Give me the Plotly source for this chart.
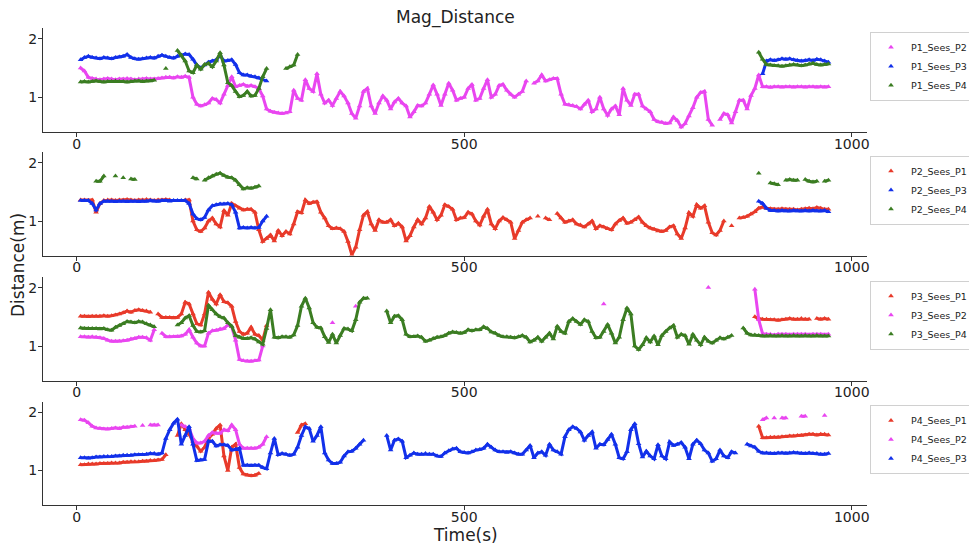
import plotly.graph_objects as go

# Sampling instants (s) shared by every series
time_s = list(range(0, 975, 5))

GAP = None

# ---------------- Player 1 ----------------
p1_sees_p2 = ([GAP]
    + [1.50, 1.45, 1.34, 1.32,
       1.31, 1.30, 1.31, 1.32, 1.31, 1.30, 1.31, 1.31, 1.32, 1.31, 1.30, 1.31, 1.31, 1.32, 1.31, 1.31, 1.32,
       1.33, 1.34, 1.34, 1.33, 1.35, 1.34, 1.36, 1.34]
    + [1.00, 0.88, 0.85, 0.87, 0.90, 0.98, 0.96, 0.90, 1.05, 1.20,
       1.35, 1.18, 1.20, 1.22, 1.19, 1.20, 1.18, 1.15, 1.02, 0.80,
       0.76, 0.74, 0.73, 0.72, 0.73, 0.75, 1.12, 0.98, 0.95, 1.30,
       1.15, 1.10, 1.40, 1.05, 0.90, 0.95, 0.86, 0.98, 1.10, 1.02,
       0.90, 0.72, 0.64, 0.85, 1.10, 1.15, 0.85, 0.72, 0.90, 1.02,
       0.95, 0.80, 0.92, 0.98, 0.90, 0.85, 0.66, 0.75, 0.86, 0.85,
       0.90, 1.05, 1.21, 1.05, 0.86, 1.05, 1.24, 1.12, 0.95, 0.98,
       1.00, 1.15, 1.22, 0.95, 0.98, 1.15, 1.30, 1.00, 1.05, 1.20,
       1.22, 1.12, 1.05, 1.00, 1.05, 1.10, 1.28]
    + [GAP]
    + [1.24, 1.28, 1.38, 1.28, 1.30, 1.32, 1.32, 1.05, 0.88, 0.87,
       0.86, 0.84, 0.80, 0.88, 0.95, 0.75, 0.80, 1.00, 0.80, 0.69,
       0.80, 0.85, 0.70, 1.15, 0.95, 0.86, 1.05, 1.05, 0.85, 0.80,
       0.75, 0.62, 0.58, 0.57, 0.55, 0.56, 0.66, 0.60, 0.49, 0.55,
       0.68, 0.82, 1.00, 1.08, 1.10, 0.62, 0.52]
    + [GAP]
    + [0.62, 0.72, 0.70, 0.56, 0.75, 0.95, 0.95, 0.80, 1.03, 1.15,
       1.38, 1.18,
       1.18, 1.17, 1.18, 1.18, 1.17, 1.18, 1.18, 1.17, 1.18, 1.18, 1.17, 1.18, 1.18, 1.17, 1.18, 1.17, 1.18])

p1_sees_p3 = ([GAP]
    + [1.64, 1.68, 1.70, 1.68, 1.67, 1.66, 1.68, 1.67, 1.66, 1.68,
       1.69, 1.70, 1.73, 1.68, 1.66, 1.65, 1.66, 1.67, 1.68, 1.67,
       1.70, 1.72, 1.70, 1.68, 1.67, 1.70, 1.72, 1.74, 1.73, 1.65,
       1.55, 1.50, 1.55, 1.60, 1.62, 1.64, 1.72, 1.62, 1.63, 1.64,
       1.56, 1.42, 1.38, 1.38, 1.36, 1.35, 1.33, 1.30, 1.28]
    + [GAP] * 127
    + [1.40, 1.62, 1.64, 1.63, 1.64, 1.66, 1.65, 1.66, 1.64, 1.63,
       1.62, 1.63, 1.64, 1.63, 1.65, 1.64, 1.62, 1.60])

p1_sees_p4 = ([GAP]
    + [1.26, 1.27, 1.26, 1.27, 1.28, 1.27, 1.26, 1.27, 1.27, 1.28,
       1.27, 1.27, 1.26, 1.27, 1.28, 1.28, 1.27, 1.28, 1.28, 1.29]
    + [GAP, GAP, 1.49, GAP, GAP]
    + [1.80, 1.72, 1.62, 1.45, 1.42, 1.55, 1.48, 1.56, 1.58, 1.52,
       1.62, 1.76, 1.55, 1.25, 1.20, 1.10, 1.01, 1.03, 1.10, 1.02,
       1.03, 1.15, 1.35, 1.49]
    + [GAP] * 4
    + [1.49, 1.52, 1.55, 1.73]
    + [GAP] * 118
    + [1.77, 1.65, 1.56, 1.55, 1.54, 1.54, 1.53, 1.54, 1.55, 1.56,
       1.55, 1.54, 1.55, 1.57, 1.58, 1.56, 1.55, 1.56, 1.57])

# ---------------- Player 2 ----------------
p2_sees_p1 = ([GAP]
    + [1.36, 1.36, 1.35, 1.36, 1.15, 1.30, 1.35, 1.36, 1.36, 1.35,
       1.36, 1.36, 1.37, 1.36, 1.35, 1.36, 1.36, 1.37, 1.36, 1.35,
       1.36, 1.36, 1.37, 1.36]
    + [GAP] * 3
    + [1.36, 1.36, 1.00, 0.85, 0.82, 0.88, 1.00, 1.05, 0.95, 0.90,
       1.18, 1.10, 1.30, 1.26, 1.22, 1.19, 1.20, 1.20, 1.15, 0.85,
       0.65, 0.70, 0.76, 0.66, 0.84, 0.75, 0.82, 0.78, 0.95, 1.16,
       1.14, 1.36, 1.30, 1.32, 1.33, 1.15, 1.05, 0.92, 0.87, 0.88,
       0.87, 0.82, 0.65, 0.42, 0.55, 0.85, 1.10, 1.16, 0.95, 0.84,
       1.02, 0.98, 0.98, 1.02, 0.92, 0.96, 0.90, 0.66, 0.75, 0.90,
       1.02, 0.95, 1.05, 1.25, 1.15, 1.02, 1.10, 1.28, 1.25, 1.20,
       1.02, 1.05, 1.06, 1.15, 1.12, 1.00, 0.93, 1.08, 1.20, 0.95,
       0.87, 1.00, 1.06, 1.02, 0.98, 0.70, 0.84, 0.98, 1.02]
    + [1.05, GAP, 1.08, GAP, 1.05, 1.02, GAP]
    + [1.13, 1.05, 0.98, 1.00, 1.02, 0.95, 0.93, 0.90, 0.95, 1.00,
       0.87, 0.92, 0.90, 0.87, 0.85, 0.95, 1.01, 1.05, 0.96, 0.98,
       1.02, 1.07, 0.98, 0.92, 0.88, 0.86, 0.83, 0.82, 0.84, 0.90,
       0.92, 0.78, 0.70, 0.88, 1.14, 1.08, 1.28, 1.22, 1.26, 0.98,
       0.80, 0.76, 0.84, 1.00]
    + [GAP, 0.92, GAP]
    + [1.05, 1.06, 1.08, 1.12, 1.16, 1.22, 1.24, 1.22, 1.21, 1.20,
       1.20, 1.21, 1.20, 1.20, 1.20, 1.19, 1.20, 1.21, 1.22, 1.21,
       1.23, 1.22, 1.20, 1.20])

p2_sees_p3 = ([GAP]
    + [1.35, 1.35, 1.35, 1.30, 1.19, 1.30, 1.34, 1.34, 1.34, 1.33,
       1.34, 1.34, 1.33, 1.34, 1.34, 1.33, 1.34, 1.34, 1.35, 1.34,
       1.34, 1.35, 1.35, 1.34, 1.35, 1.35, 1.35, 1.35, 1.30, 1.12,
       1.04, 1.02, 1.06, 1.19, 1.26, 1.28, 1.29, 1.29, 1.30, 1.28,
       1.15, 0.88, 0.89, 0.88, 0.89, 0.88, 0.89, 1.00, 1.08]
    + [GAP] * 126
    + [1.34, 1.30, 1.22, 1.18, 1.18, 1.17, 1.18, 1.17, 1.17, 1.18,
       1.17, 1.17, 1.18, 1.17, 1.18, 1.17, 1.17, 1.18, 1.16])

p2_sees_p4 = ([GAP] * 5
    + [1.68, 1.68, 1.77, GAP, GAP, 1.77, GAP, 1.74, GAP, 1.72, 1.71]
    + [GAP] * 14
    + [1.74, 1.72, GAP, 1.70, 1.74, 1.77, 1.80, 1.82, 1.78, 1.75,
       1.74, 1.70, 1.62, 1.55, 1.57, 1.56, 1.58, 1.60]
    + [GAP] * 128
    + [1.82, GAP, GAP, 1.65, 1.64, 1.62, GAP, 1.70, 1.71, 1.70,
       1.70, GAP, 1.71, 1.68, 1.67, 1.68, GAP, 1.68, 1.70])

# ---------------- Player 3 ----------------
p3_sees_p1 = ([GAP]
    + [1.51, 1.51, 1.50, 1.51, 1.51, 1.51, 1.52, 1.51, 1.52, 1.53,
       1.55, 1.57, 1.60, 1.58, 1.61, 1.62, 1.61, 1.60, 1.58]
    + [GAP]
    + [1.55, 1.49, 1.49, 1.49, 1.48, 1.49, 1.55, 1.75, 1.72, 1.55,
       1.38, 1.36, 1.55, 1.92, 1.80, 1.72, 1.88, 1.76, 1.74, 1.68,
       1.42, 1.25, 1.20, 1.22, 1.32, 1.20, 1.18, 1.10, 1.35]
    + [GAP] * 125
    + [1.50, 1.47, 1.46, 1.46, 1.45, 1.45, 1.44, 1.45, 1.46, 1.47,
       1.46, 1.46, 1.47, 1.46, 1.46, GAP, 1.47, 1.46, 1.47, 1.46])

p3_sees_p2 = ([GAP]
    + [1.16, 1.16, 1.15, 1.16, 1.15, 1.14, 1.13, 1.10, 1.08, 1.08,
       1.08, 1.09, 1.10, 1.12, 1.13, 1.15, 1.15, 1.14, 1.10]
    + [1.28, GAP, 1.22]
    + [1.16, 1.16, 1.16, 1.16, 1.17, 1.20, 1.28, 1.15, 1.05, 1.00,
       1.00, 1.22, 1.26, 1.27, 1.29, 1.30, 1.36, 1.33, 1.10, 0.77,
       0.75, 0.74, 0.74, 0.75, 0.76, 1.00]
    + [GAP] * 17 + [1.40]
    + [GAP] * 5 + [1.68]
    + [GAP] * 63 + [1.72]
    + [GAP] * 26 + [2.00]
    + [GAP] * 11
    + [1.97, 1.45, 1.21,
       1.20, 1.20, 1.19, 1.20, 1.20, 1.20, 1.19, 1.20, 1.20, 1.20,
       1.20, 1.19, 1.20, 1.20, 1.20, 1.19, 1.20])

p3_sees_p4 = ([GAP]
    + [1.31, 1.30, 1.30, 1.30, 1.30, 1.29, 1.30, 1.28, 1.27, 1.32,
       1.35, 1.38, 1.42, 1.41, 1.40, 1.42, 1.41, 1.38, 1.36]
    + [1.33, GAP, GAP, GAP, GAP, GAP]
    + [1.36, 1.40, 1.48, 1.52, 1.35, 1.25, 1.24, 1.26, 1.70, 1.62,
       1.55, 1.50, 1.48, 1.40, 1.34, 1.18, 1.15, 1.13, 1.13, 1.14,
       1.12, 1.07, 1.03, 1.30, 1.62, 1.15, 1.14, 1.16, 1.16, 1.15,
       1.19, 1.35, 1.68, 1.82, 1.65, 1.40, 1.32, 1.31, 1.16, 1.06,
       1.20, 1.05, 1.18, 1.30, 1.29, 1.26, 1.45, 1.75, 1.82]
    + [1.82]
    + [GAP] * 4
    + [1.60, 1.40, 1.51, 1.52, 1.45, 1.20, 1.16, 1.16, 1.17, 1.15,
       1.08, 1.10, 1.13, 1.15, 1.16, 1.18, 1.22, 1.24, 1.23, 1.22,
       1.23]
    + [1.28, 1.26, 1.28, 1.28, 1.33, 1.30, 1.24, 1.22, 1.18, 1.16,
       1.16, 1.15, 1.14, 1.16, 1.18, 1.15, 1.07, 1.10, 1.15, 1.08,
       1.15, 1.22, 1.12, 1.34, 1.25, 1.22, 1.42, 1.47, 1.42, 1.37,
       1.45, 1.42, 1.25, 1.14, 1.15, 1.25, 1.37, 1.22, 1.05, 1.15,
       1.45, 1.65, 1.55, 1.00, 0.94, 1.02, 1.14, 1.07, 1.17, 1.02,
       1.18, 1.25, 1.31, 1.35, 1.15, 1.20, 1.18, 1.03, 1.20, 1.10,
       1.02, 1.15, 1.08, 1.05, 1.10, 1.14, 1.12, 1.15, 1.18]
    + [GAP, GAP]
    + [1.31, 1.22, 1.19, 1.19, 1.18, 1.17, 1.17, 1.18, 1.17, 1.17,
       1.18, 1.17, 1.17, 1.18, 1.17, 1.17, 1.18, 1.17, 1.17, 1.18,
       1.17, 1.17, 1.17])

# ---------------- Player 4 ----------------
p4_sees_p1 = ([GAP]
    + [1.10, 1.10, 1.11, 1.11, 1.11, 1.12, 1.12, 1.12, 1.13, 1.13,
       1.13, 1.14, 1.14, 1.15, 1.15, 1.15, 1.16, 1.16, 1.17, 1.17,
       1.18, 1.19]
    + [1.27, GAP, GAP, 1.60, 1.80, 1.70, 1.62, 1.50, 1.42, 1.33,
       1.40, 1.55, 1.62, 1.72, 1.78, 1.25, 1.00, 1.40, 1.45, 1.05,
       0.94, 0.92, 0.91, 0.92, 0.95, GAP]
    + [GAP] * 8
    + [1.65, 1.78, 1.80]
    + [GAP] * 116
    + [1.76, 1.56, 1.56, 1.57, 1.57, 1.57, 1.58, 1.58, 1.59, 1.59,
       1.60, 1.60, 1.61, 1.62, 1.62, 1.61, 1.62, 1.62, 1.61])

p4_sees_p2 = ([GAP]
    + [1.87, 1.86, 1.82, 1.76, 1.73, 1.72, 1.71, 1.71, 1.72, 1.73,
       1.72, 1.74, 1.74, 1.75, 1.76, GAP, 1.77, GAP, 1.78, 1.78,
       1.78]
    + [GAP] * 5
    + [1.78, 1.75, 1.72, 1.55, 1.47, 1.47, 1.50, 1.60, 1.65, 1.64,
       1.64, 1.70, 1.68, 1.78, 1.70, 1.45, 1.38, 1.38, 1.38, 1.38,
       1.40, 1.45, 1.58]
    + [GAP] * 127
    + [1.87, 1.90, GAP, 1.90, GAP, 1.90, 1.90, GAP, GAP, GAP,
       1.93, 1.93, GAP, GAP, GAP, GAP, 1.94, GAP])

p4_sees_p3 = ([GAP]
    + [1.22, 1.22, 1.21, 1.22, 1.23, 1.23, 1.24, 1.24, 1.24, 1.25,
       1.25, 1.26, 1.26, 1.26, 1.27, 1.27, 1.27, 1.28, 1.29, 1.29,
       1.28, 1.30, 1.55, 1.70, 1.81, 1.88, 1.45, 1.60, 1.75, 1.45,
       1.17, 1.18, 1.19, 1.50, 1.50, 1.42, 1.44, 1.44, 1.43, 1.35,
       1.36, 1.38, 1.09, 1.09, 1.08, 1.09, 1.09, 1.05, 1.03, 1.30,
       1.55, 1.27, 1.29, 1.28, 1.26, 1.28, 1.40, 1.60, 1.75, 1.72,
       1.50, 1.60, 1.75, 1.30, 1.18, 1.12, 1.12, 1.14, 1.25, 1.32,
       1.33, 1.38, 1.45, 1.52]
    + [GAP] * 5
    + [1.60, 1.35, 1.52, 1.54, 1.50, 1.22, 1.26, 1.30, 1.28, 1.28,
       1.29, 1.28, 1.28, 1.25, 1.24, 1.30, 1.34, 1.37, 1.38, 1.32,
       1.31, 1.30, 1.32, 1.35, 1.36, 1.38, 1.45, 1.40, 1.35, 1.32,
       1.32, 1.31, 1.32, 1.30, 1.28, 1.28, 1.35, 1.43, 1.22, 1.30,
       1.32, 1.26, 1.45, 1.35, 1.32, 1.28, 1.58, 1.70, 1.75, 1.72,
       1.66, 1.52, 1.60, 1.66, 1.38, 1.45, 1.44, 1.53, 1.62, 1.45,
       1.22, 1.20, 1.32, 1.70, 1.80, 1.46, 1.23, 1.33, 1.25, 1.20,
       1.44, 1.25, 1.20, 1.49, 1.43, 1.45, 1.48, 1.40, 1.20, 1.45,
       1.52, 1.46, 1.35, 1.30, 1.16, 1.20, 1.35, 1.25, 1.22, 1.32,
       1.30]
    + [GAP, GAP]
    + [1.45, 1.42, 1.40, 1.33, 1.30, 1.30, 1.29, 1.29, 1.30, 1.30,
       1.29, 1.30, 1.31, 1.30, 1.29, 1.29, 1.30, 1.29, 1.29, 1.28,
       1.28, 1.29])

MAGENTA = "#e946f0"
BLUE = "#1230ea"
GREEN = "#3b7d22"
RED = "#e83a2a"

panels = [
    [("P1_Sees_P2", p1_sees_p2, MAGENTA), ("P1_Sees_P3", p1_sees_p3, BLUE), ("P1_Sees_P4", p1_sees_p4, GREEN)],
    [("P2_Sees_P1", p2_sees_p1, RED), ("P2_Sees_P3", p2_sees_p3, BLUE), ("P2_Sees_P4", p2_sees_p4, GREEN)],
    [("P3_Sees_P1", p3_sees_p1, RED), ("P3_Sees_P2", p3_sees_p2, MAGENTA), ("P3_Sees_P4", p3_sees_p4, GREEN)],
    [("P4_Sees_P1", p4_sees_p1, RED), ("P4_Sees_P2", p4_sees_p2, MAGENTA), ("P4_Sees_P3", p4_sees_p3, BLUE)],
]

W, H = 969, 544
x_dom = [43 / W, 867 / W]
# vertical extents of each panel in pixels (top, bottom)
panel_px = [(28.3, 131.7), (152.1, 255.5), (277.1, 380.5), (401.6, 505.0)]

fig = go.Figure()
layout = {}
FONT = "DejaVu Sans"
AXIS_COLOR = "#333333"

for i, series in enumerate(panels):
    n = i + 1
    sfx = "" if n == 1 else str(n)
    leg = "legend" if n == 1 else f"legend{n}"
    for name, vals, col in series:
        assert len(vals) == len(time_s), (name, len(vals))
        # band joining consecutive samples so dense runs read as a thick trail
        fig.add_trace(go.Scatter(
            x=time_s, y=vals, mode="lines", line=dict(color=col, width=3),
            showlegend=False, hoverinfo="skip",
            xaxis=f"x{sfx}", yaxis=f"y{sfx}",
        ))
        fig.add_trace(go.Scatter(
            x=time_s, y=vals, mode="markers", name=name,
            marker=dict(symbol="triangle-up", size=5, color=col, line=dict(width=0)),
            xaxis=f"x{sfx}", yaxis=f"y{sfx}", legend=leg,
        ))
    top, bot = panel_px[i]
    layout[f"xaxis{sfx}"] = dict(
        domain=x_dom, anchor=f"y{sfx}", range=[-43.5, 1019.7],
        tickvals=[0, 500, 1000], showline=True, linecolor=AXIS_COLOR, linewidth=1,
        ticks="outside", ticklen=4, tickcolor=AXIS_COLOR, showgrid=False, zeroline=False,
        tickfont=dict(size=14, color="#222222", family=FONT),
        ticklabelstandoff=-5,
    )
    layout[f"yaxis{sfx}"] = dict(
        domain=[1 - bot / H, 1 - top / H], anchor=f"x{sfx}", range=[0.41, 2.18],
        tickvals=[1, 2], showline=True, linecolor=AXIS_COLOR, linewidth=1,
        ticks="outside", ticklen=4, tickcolor=AXIS_COLOR, showgrid=False, zeroline=False,
        tickfont=dict(size=14, color="#222222", family=FONT),
        ticklabelstandoff=-2,
    )
    layout[leg] = dict(
        x=870 / W, xanchor="left", y=1 - (top + 3.4) / H, yanchor="top",
        bgcolor="white", bordercolor="#d0d0d0", borderwidth=1,
        font=dict(size=9.5, color="#222222", family=FONT),
    )

fig.update_layout(
    **layout,
    width=W, height=H,
    margin=dict(l=0, r=0, t=0, b=0, autoexpand=False),
    paper_bgcolor="white", plot_bgcolor="white",
    showlegend=True,
    font=dict(family=FONT),
    annotations=[
        dict(text="Mag_Distance", x=455 / W, y=1 - 17 / H, xref="paper", yref="paper",
             showarrow=False, xanchor="center", yanchor="middle",
             font=dict(size=17, color="#222222", family=FONT)),
        dict(text="Distance(m)", x=18 / W, y=1 - 265 / H, xref="paper", yref="paper",
             showarrow=False, xanchor="center", yanchor="middle", textangle=-90,
             font=dict(size=17, color="#222222", family=FONT)),
        dict(text="Time(s)", x=465 / W, y=1 - 535 / H, xref="paper", yref="paper",
             showarrow=False, xanchor="center", yanchor="middle",
             font=dict(size=17, color="#222222", family=FONT)),
    ],
)

fig.write_html("out.html")
